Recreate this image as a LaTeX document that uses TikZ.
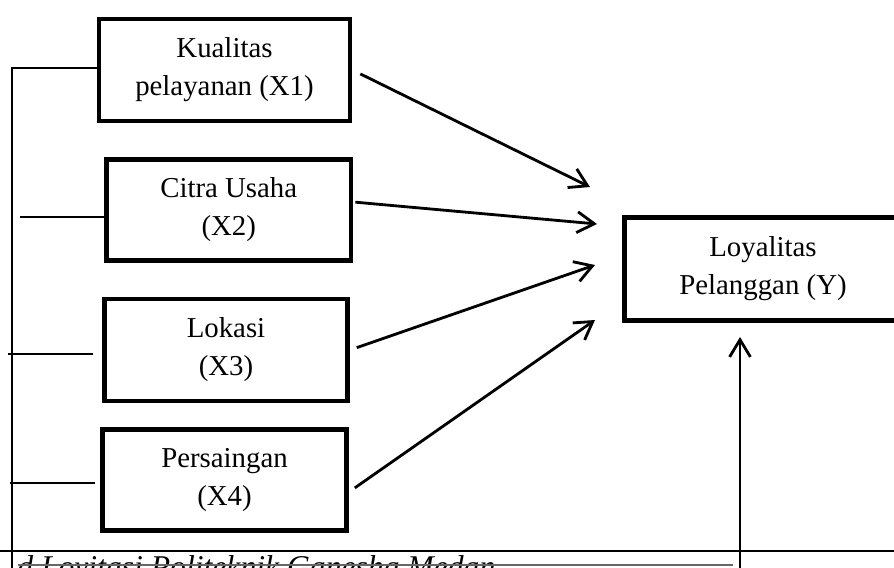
\documentclass[tikz,border=0pt]{standalone}
\usepackage{fontspec}
\setmainfont{Liberation Serif}
\usetikzlibrary{arrows.meta}
\tikzset{
  varbox/.style={draw, line width=3.4pt, align=center, inner sep=0pt,
    font=\fontsize{20.5}{27}\selectfont},
  link/.style={line width=1.5pt},
  toY/.style={line width=2pt, -{Straight Barb[length=4.3mm,width=5.2mm]}}
}
\begin{document}
\begin{tikzpicture}[x=0.025cm,y=-0.025cm]
\useasboundingbox (0,0) rectangle (894,567);
\clip (0,0) rectangle (894,567);

\node[varbox, minimum width=6.275cm, minimum height=2.55cm] (x1) at (224.5,70) {Kualitas\\pelayanan (X1)};
\node[varbox, minimum width=6.11cm, minimum height=2.54cm] (x2) at (228.75,210) {Citra Usaha\\(X2)};
\node[varbox, minimum width=6.075cm, minimum height=2.55cm] (x3) at (226,350) {Lokasi\\(X3)};
\node[varbox, minimum width=6.1cm, minimum height=2.525cm] (x4) at (224.5,480) {Persaingan\\(X4)};
\node[varbox, minimum width=6.94cm, minimum height=2.575cm] (y) at (763,269) {Loyalitas\\Pelanggan (Y)};

\coordinate (t1) at (590,187);
\coordinate (t2) at (597,224);
\coordinate (t3) at (595,265);
\coordinate (t4) at (595,320);
\coordinate (t5) at (740,337);
\coordinate (b5) at (740,580);

\draw[toY, shorten <=0.22cm] (x1.east) -- (t1);
\draw[toY, shorten <=0.05cm] ([yshift=0.2cm]x2.east) -- (t2);
\draw[toY, shorten <=0.18cm] (x3.east) -- (t3);
\draw[toY, shorten <=0.18cm] ([yshift=-0.3cm]x4.east) -- (t4);
\draw[toY] (b5) -- (t5);

% left side lines
\coordinate (bus) at (12,580);
\coordinate (s2) at (20,217);
\coordinate (s3) at (8,354);
\coordinate (s4) at (10,483);
\draw[link] ([yshift=0.05cm]x1.west) -| (bus);
\draw[link] (s2) -- (s2 -| x2.west);
\draw[link] (s3) -- ++(85,0);
\draw[link] (s4) -- ++(85,0);

% bottom edge
\draw[link] (0,551) -- (894,551);
\node[font=\fontsize{22.5}{26}\selectfont\itshape, anchor=base west, inner sep=0pt] (src) at (17,577) {d Loyitasi Politeknik Ganesha Medan};
\draw[gray!80!black, line width=1.5pt] (18,565) -- (733,565);
\end{tikzpicture}
\end{document}
